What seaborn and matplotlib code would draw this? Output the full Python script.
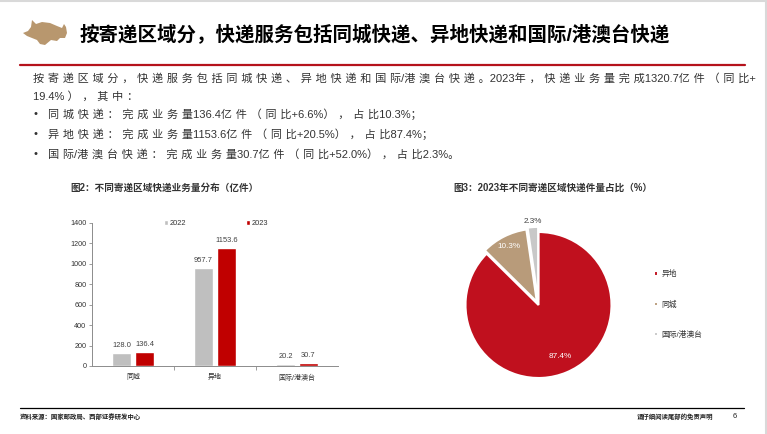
import numpy as np
import pandas as pd
import matplotlib.pyplot as plt
from matplotlib.lines import Line2D
from matplotlib.patches import Polygon
import seaborn as sns

# chart data
regions = ["同城", "异地", "国际/港澳台"]
years = ["2022", "2023"]
volume_2022 = [128.0, 957.7, 20.2]
volume_2023 = [136.4, 1153.6, 30.7]
pie_labels = ["异地", "同城", "国际/港澳台"]
pie_shares = [87.4, 10.3, 2.3]

page_title = "按寄递区域分，快递服务包括同城快递、异地快递和国际/港澳台快递"
intro_lines = [
    "按寄递区域分，快递服务包括同城快递、异地快递和国际/港澳台快递。2023年，快递业务量完成1320.7亿件（同比+",
    "19.4% ），其中：",
]
bullets = [
    "同城快递：完成业务量136.4亿件（同比+6.6%），占比10.3%；",
    "异地快递：完成业务量1153.6亿件（同比+20.5%），占比87.4%；",
    "国际/港澳台快递：完成业务量30.7亿件（同比+52.0%），占比2.3%。",
]
bar_title = "图2：不同寄递区域快递业务量分布（亿件）"
pie_title = "图3：2023年不同寄递区域快递件量占比（%）"
source = "资料来源：国家邮政局、西部证券研发中心"
disclaimer = "请仔细阅读尾部的免责声明"
page_no = "6"

sns.set_theme(style="white")
plt.rcParams["font.family"] = ["Liberation Sans", "Noto Sans CJK SC", "DejaVu Sans"]

W, H = 767, 434
fig = plt.figure(figsize=(W / 100, H / 100), dpi=100)


def fx(x):
    return x / W


def fy(y):
    return 1 - y / H


def cjk(c):
    return ord(c) > 0x2E80


def spaced(s):
    # slide body text has loose tracking between CJK characters
    out = ""
    for i, c in enumerate(s):
        out += c
        if i < len(s) - 1 and cjk(c) and cjk(s[i + 1]):
            out += "\u2004"
    return out


grey_txt = "#333333"
red = "#C0101E"

# page frame and rules
fig.add_artist(Line2D([0, 1], [fy(0.8), fy(0.8)], color="#d9d9d9", lw=1.5))
fig.add_artist(Line2D([fx(766), fx(766)], [0, 1], color="#d9d9d9", lw=1.5))
fig.add_artist(Line2D([fx(20), fx(745)], [fy(65), fy(65)], color="#B5121B", lw=1.6))
fig.add_artist(Line2D([fx(20), fx(744)], [fy(408), fy(408)], color="black", lw=0.9))

# bull logo
bull = [(23, 33), (28, 31), (31, 27), (32, 20), (36, 24), (42, 22), (50, 23),
        (57, 26), (62, 28), (64, 24), (66, 27), (67, 33), (65, 38), (60, 38),
        (57, 41), (51, 40), (45, 45), (40, 44), (37, 40), (32, 38), (27, 36)]
fig.add_artist(Polygon([(fx(a), fy(b)) for a, b in bull], closed=True,
                       facecolor="#B8976E", edgecolor="none"))

fig.text(fx(80), fy(35), page_title, fontsize=14, fontweight="bold",
         color="black", va="center", ha="left")

# intro paragraph
fs = 8.0
fig.text(fx(33), fy(78), spaced(intro_lines[0]), fontsize=fs, color=grey_txt, va="center")
fig.text(fx(33), fy(96), spaced(intro_lines[1]), fontsize=fs, color=grey_txt, va="center")
for i, b in enumerate(bullets):
    yy = [114, 134, 154][i]
    fig.text(fx(33), fy(yy), "•", fontsize=fs, color=grey_txt, va="center")
    fig.text(fx(48), fy(yy), spaced(b), fontsize=fs, color=grey_txt, va="center")

# bar chart
fig.text(fx(70), fy(188), bar_title, fontsize=6.9, fontweight="bold", color=grey_txt, va="center")
df = pd.DataFrame({
    "region": regions * 2,
    "year": [years[0]] * 3 + [years[1]] * 3,
    "volume": volume_2022 + volume_2023,
})
ax = fig.add_axes([fx(92), fy(366), 246 / W, (366 - 222.7) / H])
sns.barplot(data=df, x="region", y="volume", hue="year",
            palette=["#BFBFBF", "#C00000"], width=0.56, gap=0.2,
            saturation=1, errorbar=None, ax=ax)
ax.set_xlim(-0.5, 2.5)
ax.set_ylim(0, 1400)
ax.set_yticks(range(0, 1401, 200))
ax.set_xlabel("")
ax.set_ylabel("")
for cont in ax.containers:
    ax.bar_label(cont, fmt="%.1f", padding=3, fontsize=5.4, color="#404040")
for side in ["top", "right"]:
    ax.spines[side].set_visible(False)
for side in ["left", "bottom"]:
    ax.spines[side].set_color("#8c8c8c")
    ax.spines[side].set_linewidth(0.7)
ax.set_xticks([0.5, 1.5], minor=True)
ax.tick_params(axis="x", which="major", length=0, labelsize=5, labelcolor=grey_txt, pad=6)
ax.tick_params(axis="x", which="minor", length=3, width=0.6, color="#8c8c8c", direction="out", bottom=True)
ax.tick_params(axis="y", length=2, width=0.6, color="#8c8c8c", direction="out", left=True,
               labelsize=5.2, labelcolor=grey_txt, pad=2)
ax.legend(loc="upper left", bbox_to_anchor=(0.28, 1.04), ncol=2, frameon=False,
          fontsize=5.4, handlelength=0.6, handleheight=0.6, handletextpad=0.2,
          columnspacing=7.9, borderaxespad=0, labelcolor=grey_txt)

# pie chart
fig.text(fx(453), fy(188), pie_title, fontsize=6.95, fontweight="bold", color=grey_txt, va="center")
cx, cy, r = 538.5, 305, 73
half = r * 1.2
pax = fig.add_axes([fx(cx - half), fy(cy + half), 2 * half / W, 2 * half / H])
wedges, texts, autotexts = pax.pie(
    pie_shares, colors=[red, "#B89B7A", "#C8C8C8"], startangle=90, counterclock=False,
    explode=[0, 0.05, 0.07], autopct="%.1f%%", pctdistance=0.75,
    wedgeprops=dict(edgecolor="white", linewidth=1.5),
    textprops=dict(fontsize=5.9))
pax.set_xlim(-1.2, 1.2)
pax.set_ylim(-1.2, 1.2)
pax.set_aspect("equal")
pax.axis("off")
radii = [0.76, 0.9, 1.14]
colors_txt = ["white", "white", "#404040"]
for w, t, rr, c in zip(wedges, autotexts, radii, colors_txt):
    mid = np.deg2rad((w.theta1 + w.theta2) / 2)
    t.set_position((rr * np.cos(mid), rr * np.sin(mid)))
    t.set_color(c)
fig.legend(wedges, pie_labels, loc="upper left", bbox_to_anchor=(fx(651), fy(267)),
           frameon=False, fontsize=5.6, handlelength=0.5, handleheight=0.5,
           handletextpad=0.4, labelspacing=2.85, borderaxespad=0, labelcolor=grey_txt)

# footer
fig.text(fx(20), fy(417), source, fontsize=4.6, fontweight="bold", color="#222222", va="center")
fig.text(fx(713), fy(417), disclaimer, fontsize=4.6, fontweight="bold", color="#222222",
         va="center", ha="right")
fig.text(fx(733), fy(417), page_no, fontsize=5.5, color="#222222", va="center")

fig.savefig("out.png", dpi=100, facecolor="white")
